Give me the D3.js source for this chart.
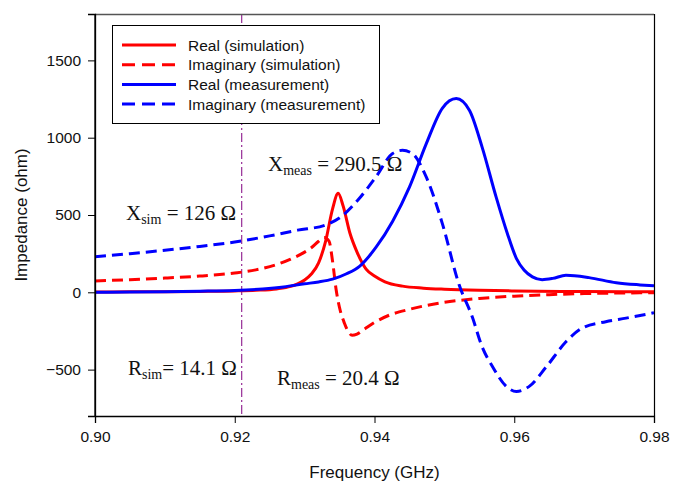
<!DOCTYPE html>
<html><head><meta charset="utf-8">
<script src="https://cdn.jsdelivr.net/npm/d3@7"></script>
<style>body{margin:0;background:#fff}svg{display:block}</style>
</head><body><svg id="c" width="676" height="485"></svg>
<script>
// ---- data ----
const realSimF = [0.900,0.905,0.910,0.915,0.920,0.923,0.926,0.928,0.929,0.930,0.931,0.932,0.933,0.934,0.9348,0.9355,0.9365,0.9375,0.9388,0.940,0.9415,0.944,0.947,0.950,0.955,0.960,0.970,0.980];
const realSimV = [2,3,4,6,9,13,22,38,55,80,120,190,330,540,640,560,380,260,150,105,68,40,27,20,13,9,5,3];
const imagSimF = [0.900,0.905,0.910,0.915,0.920,0.923,0.926,0.928,0.930,0.931,0.932,0.9328,0.9335,0.934,0.9345,0.935,0.9357,0.9362,0.9368,0.9375,0.9385,0.940,0.942,0.945,0.950,0.955,0.960,0.965,0.970,0.980];
const imagSimV = [73,82,92,105,125,145,180,215,260,290,330,355,330,200,20,-100,-200,-250,-278,-270,-240,-195,-150,-110,-65,-40,-25,-15,-8,-3];
const realMeasF = [0.900,0.905,0.910,0.915,0.920,0.924,0.927,0.930,0.932,0.934,0.936,0.9379,0.9402,0.9426,0.945,0.9474,0.9497,0.9517,0.9536,0.9554,0.9574,0.959,0.9603,0.9614,0.9626,0.964,0.9655,0.9674,0.9707,0.9746,0.978,0.980];
const realMeasV = [0,2,4,7,12,22,35,55,67,85,120,170,290,460,680,960,1190,1253,1176,939,617,382,220,144,100,82,90,110,95,62,48,42];
const imagMeasF = [0.900,0.905,0.910,0.915,0.920,0.925,0.929,0.9329,0.9352,0.9376,0.9402,0.9426,0.944,0.9454,0.9474,0.9497,0.9521,0.954,0.9554,0.9569,0.9589,0.9603,0.9621,0.9646,0.9674,0.9697,0.9731,0.976,0.980];
const imagMeasV = [230,250,272,297,325,365,402,434,488,595,746,898,918,898,746,446,50,-160,-352,-481,-610,-641,-610,-481,-320,-232,-190,-167,-132];
const seriesNames = ["Real (simulation)","Imaginary (simulation)","Real (measurement)","Imaginary (measurement)"];
const xTicks = [0.90,0.92,0.94,0.96,0.98];
const yTicks = [-500,0,500,1000,1500];
const markerFreq = 0.921;

const series = [
  {name:seriesNames[0], f:realSimF, v:realSimV, color:"#ff0000", dash:null},
  {name:seriesNames[1], f:imagSimF, v:imagSimV, color:"#ff0000", dash:"11,6"},
  {name:seriesNames[2], f:realMeasF, v:realMeasV, color:"#0000ff", dash:null},
  {name:seriesNames[3], f:imagMeasF, v:imagMeasV, color:"#0000ff", dash:"11,6"}
];

const svg = d3.select("#c");
const L=95, T=14, R=654, B=416;
const x = d3.scaleLinear().domain([0.90,0.98]).range([L,R]);
const y = d3.scaleLinear().domain([-800,1800]).range([B,T]);
const sans = "Liberation Sans, Arial, sans-serif";

svg.append("defs").append("clipPath").attr("id","clip").append("rect")
  .attr("x",L).attr("y",T).attr("width",R-L).attr("height",B-T);

// vertical marker
svg.append("line").attr("x1",x(markerFreq)).attr("x2",x(markerFreq)).attr("y1",T).attr("y2",B)
  .attr("stroke","#800080").attr("stroke-width",1).attr("stroke-dasharray","9,3,2,3");

// curves
const line = d3.line().x(d=>x(d[0])).y(d=>y(d[1])).curve(d3.curveMonotoneX);
const g = svg.append("g").attr("clip-path","url(#clip)");
series.forEach(s=>{
  g.append("path").datum(s.f.map((f,i)=>[f,s.v[i]])).attr("d",line)
   .attr("fill","none").attr("stroke",s.color).attr("stroke-width",3)
   .attr("stroke-dasharray",s.dash).attr("stroke-linejoin","round");
});

// frame
svg.append("line").attr("x1",L).attr("x2",R).attr("y1",T+0.5).attr("y2",T+0.5).attr("stroke","#555").attr("stroke-width",1.5);
svg.append("line").attr("x1",R+0.5).attr("x2",R+0.5).attr("y1",T).attr("y2",B).attr("stroke","#000").attr("stroke-width",1.2);

// axes
const xa = svg.append("g").attr("transform",`translate(0,${B})`)
  .call(d3.axisBottom(x).tickValues(xTicks).tickFormat(d3.format(".2f")).tickSizeOuter(0).tickSize(7).tickPadding(8));
const ya = svg.append("g").attr("transform",`translate(${L},0)`)
  .call(d3.axisLeft(y).tickValues(yTicks).tickFormat(d=>d3.format("d")(d)).tickSizeOuter(0).tickSize(7).tickPadding(7));
[xa,ya].forEach(a=>{
  a.selectAll("text").attr("font-family",sans).attr("font-size",15.5).attr("fill","#111");
  a.select(".domain").attr("stroke","#000").attr("stroke-width",1.3);
  a.selectAll(".tick line").attr("stroke","#000").attr("stroke-width",1);
});
svg.append("line").attr("x1",L).attr("x2",L).attr("y1",T).attr("y2",B).attr("stroke","#000").attr("stroke-width",1.3);

// axis titles
svg.append("text").attr("x",(L+R)/2).attr("y",478).attr("text-anchor","middle")
  .attr("font-family",sans).attr("font-size",17).attr("fill","#111").text("Frequency (GHz)");
svg.append("text").attr("transform",`translate(27,${(T+B)/2}) rotate(-90)`).attr("text-anchor","middle")
  .attr("font-family",sans).attr("font-size",17).attr("fill","#111").text("Impedance (ohm)");

// legend
const lg = svg.append("g");
lg.append("rect").attr("x",112.5).attr("y",25.5).attr("width",267).attr("height",98).attr("fill","#fff").attr("stroke","#000").attr("stroke-width",1);
series.forEach((s,i)=>{
  const yy = 45 + i*19.7;
  lg.append("line").attr("x1",122).attr("x2",176).attr("y1",yy).attr("y2",yy)
    .attr("stroke",s.color).attr("stroke-width",3).attr("stroke-dasharray",s.dash?"13,7":null);
  lg.append("text").attr("x",188).attr("y",yy+5.5).attr("font-family",sans)
    .attr("font-size",15.5).attr("fill","#111").text(s.name);
});

// annotations
const annots = [
  {main:"X", sub:"meas", rest:" = 290.5 Ω", x:268, y:171},
  {main:"X", sub:"sim", rest:" = 126 Ω", x:126, y:220},
  {main:"R", sub:"sim", rest:"= 14.1 Ω", x:128, y:375},
  {main:"R", sub:"meas", rest:" = 20.4 Ω", x:277, y:385}
];
annots.forEach(a=>{
  const t = svg.append("text").attr("x",a.x).attr("y",a.y).attr("font-family","Liberation Serif, Times New Roman, serif")
    .attr("font-size",21).attr("fill","#111");
  t.append("tspan").text(a.main);
  t.append("tspan").attr("font-size",14).attr("dy",4).text(a.sub);
  t.append("tspan").attr("dy",-4).text(a.rest);
});
</script></body></html>
